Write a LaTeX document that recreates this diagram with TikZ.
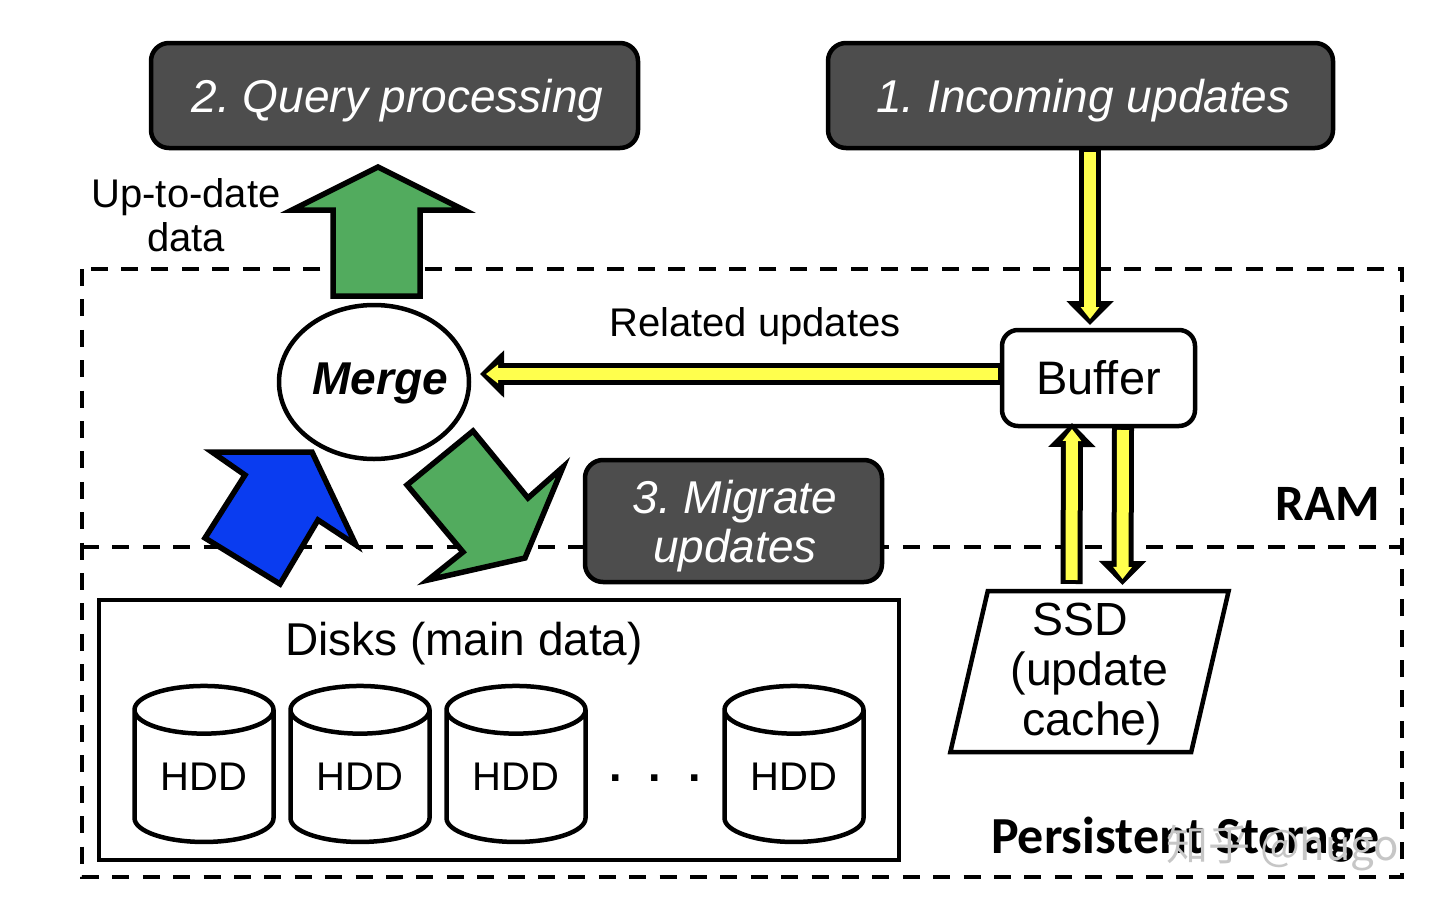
\documentclass[tikz,border=0pt]{standalone}
\usepackage{fontspec}
\setmainfont{Liberation Sans}
\newfontfamily\calibrifont{Carlito}
\newfontfamily\cjkfont{Noto Sans CJK SC}
\usetikzlibrary{positioning,arrows.meta,shapes.geometric}
\definecolor{darkfill}{HTML}{4D4D4D}
\definecolor{arrowgreen}{HTML}{52AB5E}
\definecolor{arrowblue}{HTML}{0A3CF0}
\definecolor{arrowyellow}{HTML}{FFFF4D}
\tikzset{
  outline/.style={draw=black, line width=4.5pt, line join=miter, outer sep=0pt, inner sep=0pt},
  stepbox/.style={outline, fill=darkfill, rounded corners=18pt, text=white, align=center, text depth=0pt,
    font=\fontsize{46}{49}\selectfont\itshape\frenchspacing},
  fatarrow/.style={draw=black, line width=5.5pt, line join=miter, miter limit=10},
  yellowline/.style={draw=black, line width=22pt, -{Triangle[length=24pt,width=46pt]},
    postaction={draw=arrowyellow, line width=12pt, -{Triangle[length=12pt,width=18pt]},
      shorten >=6pt, shorten <=4pt}},
  hdd/.style={outline, cylinder, shape border rotate=90, aspect=0.55, minimum height=156pt,
    minimum width=139pt, fill=white, font=\fontsize{40}{40}\selectfont},
  caption/.style={font=\fontsize{40}{44}\selectfont, align=center, inner sep=0pt},
  memlabel/.style={font=\fontsize{52}{52}\selectfont\calibrifont\bfseries, inner sep=0pt},
}
\begin{document}
\begin{tikzpicture}[x=1pt, y=-1pt, on grid]
  \useasboundingbox[fill=white] (0,0) rectangle (1440,910);

  \draw[line width=3.5pt, dash pattern=on 17pt off 13.4pt] (82,269) rectangle (1402,877);
  \draw[line width=3.5pt, dash pattern=on 17pt off 13.4pt] (82,547) -- (1402,547);

  \node[stepbox, minimum width=487pt, minimum height=105pt] (query) at (394.5,95.5) {\hspace*{6pt}2. Query processing};
  \node[stepbox, minimum width=505pt, minimum height=105pt, right=686pt of query] (incoming) {\hspace*{6pt}1. Incoming updates};
  \node[stepbox, minimum width=297pt, minimum height=122pt] (migrate) at (733.5,521) {\hspace*{3pt}3. Migrate\\\hspace*{3pt}updates};

  \node[outline, ellipse, minimum width=190pt, minimum height=154pt, fill=white, text depth=6pt,
    font=\fontsize{46}{46}\selectfont\bfseries\itshape] (merge) at (374,382) {\makebox[0pt]{\hspace*{12pt}Merge}};
  \node[outline, rounded corners=16pt, minimum width=193pt, minimum height=96pt, fill=white,
    font=\fontsize{47}{47}\selectfont] (buffer) at (1098.5,378) {Buffer};
  \node[outline, minimum width=800pt, minimum height=260pt] (disks) at (499,730) {};
  \node[caption, font=\fontsize{46}{46}\selectfont] (diskstitle) at (464,644) {Disks (main data)};

  \node[hdd] (hdda) at (204,777) {HDD};
  \node[hdd, right=156pt of hdda] (hddb) {HDD};
  \node[hdd, right=156pt of hddb] (hddc) {HDD};
  \node[hdd, right=278pt of hddc] (hddd) {HDD};
  \node[caption, font=\fontsize{45}{45}\selectfont\bfseries] (dots) at (655,778) {.\hspace{27pt}.\hspace{27pt}.};

  \node[outline, trapezium, trapezium left angle=78, trapezium right angle=102, trapezium stretches=true,
    minimum width=279pt, minimum height=161pt, align=center, text depth=4pt, font=\fontsize{46.5}{50}\selectfont]
    (ssd) at (1089.5,671.5) {SSD\hspace*{18pt}\\(update\\\hspace*{6pt}cache)};

  \draw[fatarrow, fill=arrowgreen] (378,167) -- (464,210) -- (420,210) -- (420,296) -- (333,296) -- (333,210) -- (292,210) -- cycle;
  \draw[fatarrow, fill=arrowblue] (212,452) -- (312,452) -- (356,545) -- (318,520) -- (280,584) -- (205,538) -- (245,475) -- cycle;
  \draw[fatarrow, fill=arrowgreen] (473,431) -- (528,498) -- (563,467) -- (525,558) -- (428,580) -- (463,552) -- (407,485) -- cycle;

  \draw[yellowline] ([xshift=9.5pt]incoming.south) -- ([xshift=-8.5pt,yshift=5pt]buffer.north);
  \draw[yellowline] ([yshift=4pt]buffer.west) -- ([xshift=11pt,yshift=8pt]merge.east);
  \draw[yellowline] ([xshift=-18pt,yshift=7pt]ssd.north) -- ([xshift=-26.5pt,yshift=3pt]buffer.south);
  \draw[yellowline] ([xshift=24.5pt]buffer.south) -- ([xshift=33pt,yshift=6pt]ssd.north);

  \node[caption] (uptodate) at (186,215) {Up-to-date\\data};
  \node[caption] (related) at (755,326) {Related updates};
  \node[memlabel, anchor=east, font=\fontsize{51}{51}\selectfont\calibrifont\bfseries] (ram) at (1380,504) {RAM};
  \node[memlabel, anchor=east] (persistent) at (1380,840) {Persistent Storage};
  \node[inner sep=0pt, text=gray!45, font=\fontsize{42}{42}\selectfont\cjkfont] (mark) at (1283,848) {知乎 @hugo};
\end{tikzpicture}
\end{document}
